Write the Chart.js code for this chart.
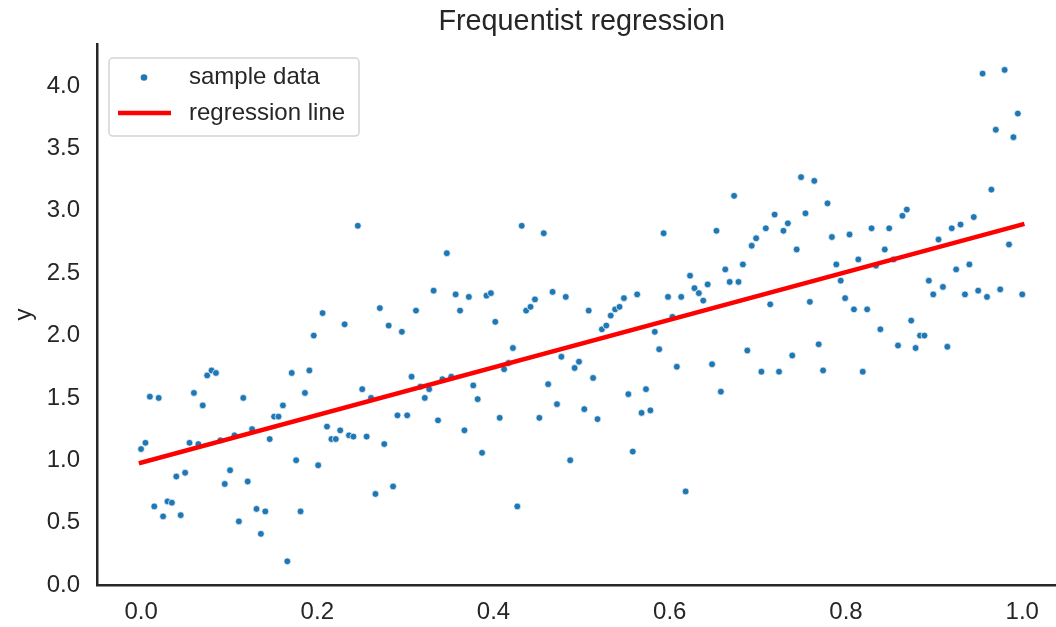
<!DOCTYPE html>
<html>
<head>
<meta charset="utf-8">
<script src="https://cdn.jsdelivr.net/npm/chart.js@4.4.0/dist/chart.umd.min.js"></script>
<style>
html, body { margin: 0; padding: 0; background: #fff; overflow: hidden; }
#wrap { width: 1056px; height: 627px; overflow: hidden; }
</style>
</head>
<body>
<!-- the axes run a little past the right edge of the picture, as in the original figure -->
<div id="wrap"><canvas id="chart" width="1071" height="627"></canvas></div>
<script>
// sample data, x evenly spaced over 0..1
var xs = [
  0.000, 0.005, 0.010, 0.015, 0.020, 0.025, 0.030, 0.035, 0.040, 0.045,
  0.050, 0.055, 0.060, 0.065, 0.070, 0.075, 0.080, 0.085, 0.090, 0.095,
  0.101, 0.106, 0.111, 0.116, 0.121, 0.126, 0.131, 0.136, 0.141, 0.146,
  0.151, 0.156, 0.161, 0.166, 0.171, 0.176, 0.181, 0.186, 0.191, 0.196,
  0.201, 0.206, 0.211, 0.216, 0.221, 0.226, 0.231, 0.236, 0.241, 0.246,
  0.251, 0.256, 0.261, 0.266, 0.271, 0.276, 0.281, 0.286, 0.291, 0.296,
  0.302, 0.307, 0.312, 0.317, 0.322, 0.327, 0.332, 0.337, 0.342, 0.347,
  0.352, 0.357, 0.362, 0.367, 0.372, 0.377, 0.382, 0.387, 0.392, 0.397,
  0.402, 0.407, 0.412, 0.417, 0.422, 0.427, 0.432, 0.437, 0.442, 0.447,
  0.452, 0.457, 0.462, 0.467, 0.472, 0.477, 0.482, 0.487, 0.492, 0.497,
  0.503, 0.508, 0.513, 0.518, 0.523, 0.528, 0.533, 0.538, 0.543, 0.548,
  0.553, 0.558, 0.563, 0.568, 0.573, 0.578, 0.583, 0.588, 0.593, 0.598,
  0.603, 0.608, 0.613, 0.618, 0.623, 0.628, 0.633, 0.638, 0.643, 0.648,
  0.653, 0.658, 0.663, 0.668, 0.673, 0.678, 0.683, 0.688, 0.693, 0.698,
  0.704, 0.709, 0.714, 0.719, 0.724, 0.729, 0.734, 0.739, 0.744, 0.749,
  0.754, 0.759, 0.764, 0.769, 0.774, 0.779, 0.784, 0.789, 0.794, 0.799,
  0.804, 0.809, 0.814, 0.819, 0.824, 0.829, 0.834, 0.839, 0.844, 0.849,
  0.854, 0.859, 0.864, 0.869, 0.874, 0.879, 0.884, 0.889, 0.894, 0.899,
  0.905, 0.910, 0.915, 0.920, 0.925, 0.930, 0.935, 0.940, 0.945, 0.950,
  0.955, 0.960, 0.965, 0.970, 0.975, 0.980, 0.985, 0.990, 0.995, 1.000
];
var ys = [
  1.09, 1.14, 1.51, 0.63, 1.50, 0.55, 0.67, 0.66, 0.87, 0.56,
  0.90, 1.14, 1.54, 1.13, 1.44, 1.68, 1.72, 1.70, 1.16, 0.81,
  0.92, 1.20, 0.51, 1.50, 0.83, 1.25, 0.61, 0.41, 0.59, 1.17,
  1.35, 1.35, 1.44, 0.19, 1.70, 1.00, 0.59, 1.54, 1.72, 2.00,
  0.96, 2.18, 1.27, 1.17, 1.17, 1.24, 2.09, 1.20, 1.19, 2.88,
  1.57, 1.19, 1.50, 0.73, 2.22, 1.13, 2.08, 0.79, 1.36, 2.03,
  1.36, 1.67, 2.20, 1.59, 1.50, 1.57, 2.36, 1.32, 1.65, 2.66,
  1.67, 2.33, 2.20, 1.24, 2.31, 1.60, 1.49, 1.06, 2.32, 2.34,
  2.11, 1.34, 1.73, 1.78, 1.90, 0.63, 2.88, 2.20, 2.23, 2.29,
  1.34, 2.82, 1.61, 2.35, 1.45, 1.83, 2.31, 1.00, 1.74, 1.79,
  1.41, 2.20, 1.66, 1.33, 2.05, 2.08, 2.16, 2.21, 2.23, 2.30,
  1.53, 1.07, 2.33, 1.38, 1.57, 1.40, 2.03, 1.89, 2.82, 2.31,
  2.15, 1.75, 2.31, 0.75, 2.48, 2.38, 2.34, 2.28, 2.41, 1.77,
  2.84, 1.55, 2.53, 2.43, 3.12, 2.43, 2.57, 1.88, 2.72, 2.78,
  1.71, 2.86, 2.25, 2.97, 1.71, 2.84, 2.90, 1.84, 2.69, 3.27,
  2.98, 2.27, 3.24, 1.93, 1.72, 3.06, 2.79, 2.57, 2.44, 2.30,
  2.81, 2.21, 2.61, 1.71, 2.21, 2.86, 2.56, 2.05, 2.69, 2.86,
  2.61, 1.92, 2.96, 3.01, 2.12, 1.90, 2.00, 2.00, 2.44, 2.33,
  2.77, 2.39, 1.91, 2.86, 2.53, 2.89, 2.33, 2.57, 2.95, 2.36,
  4.10, 2.31, 3.17, 3.65, 2.37, 4.13, 2.73, 3.59, 3.78, 2.33
];
// fitted line end points
var lineX = [0, 1];
var lineY = [0.98, 2.89];
var xTicks = [0.0, 0.2, 0.4, 0.6, 0.8, 1.0];
var yTicks = [0.0, 0.5, 1.0, 1.5, 2.0, 2.5, 3.0, 3.5, 4.0];

var FONT = "'Liberation Sans', Arial, Helvetica, sans-serif";
var TEXT = '#262626';

var points = xs.map(function (x, i) { return {x: x, y: ys[i]}; });
var fit = lineX.map(function (x, i) { return {x: x, y: lineY[i]}; });

// legend drawn inside the plot, upper left
var insideLegend = {
  id: 'insideLegend',
  afterDraw: function (chart) {
    var ctx = chart.ctx, area = chart.chartArea;
    var sets = chart.data.datasets;
    var bx = area.left + 12, by = area.top + 14, bw = 250, bh = 78;
    ctx.save();
    ctx.beginPath();
    ctx.roundRect(bx, by, bw, bh, 4);
    ctx.fillStyle = 'rgba(255,255,255,0.8)';
    ctx.fill();
    ctx.lineWidth = 1.5;
    ctx.strokeStyle = '#d4d4d4';
    ctx.stroke();

    var scatter = sets[1], line = sets[0];
    var r1 = by + 19.5, r2 = by + 55;
    ctx.beginPath();
    ctx.arc(bx + 35, r1, 3.3, 0, Math.PI * 2);
    ctx.fillStyle = scatter.backgroundColor;
    ctx.fill();

    ctx.beginPath();
    ctx.moveTo(bx + 9, r2);
    ctx.lineTo(bx + 62, r2);
    ctx.lineWidth = line.borderWidth;
    ctx.strokeStyle = line.borderColor;
    ctx.lineCap = 'butt';
    ctx.stroke();

    ctx.fillStyle = TEXT;
    ctx.font = '24px ' + FONT;
    ctx.textAlign = 'left';
    ctx.textBaseline = 'middle';
    ctx.fillText(scatter.label, bx + 80, r1);
    ctx.fillText(line.label, bx + 80, r2);
    ctx.restore();
  }
};

new Chart(document.getElementById('chart'), {
  type: 'scatter',
  data: {
    datasets: [{
      type: 'line',
      label: 'regression line',
      data: fit,
      borderColor: '#ff0000',
      borderWidth: 4.5,
      borderCapStyle: 'square',
      pointRadius: 0,
      fill: false,
      order: 0
    }, {
      label: 'sample data',
      data: points,
      backgroundColor: '#1f77b4',
      borderColor: '#ffffff',
      borderWidth: 0.7,
      pointRadius: 3.4,
      order: 1
    }]
  },
  options: {
    responsive: false,
    animation: false,
    layout: {padding: 0},
    plugins: {
      legend: {display: false},
      tooltip: {enabled: false},
      title: {
        display: true,
        fullSize: false,
        text: 'Frequentist regression',
        color: TEXT,
        font: {family: FONT, size: 28.8, weight: 'normal'},
        padding: {top: 4.5, bottom: 5}
      }
    },
    scales: {
      x: {
        type: 'linear',
        min: -0.05,
        max: 1.05,
        afterBuildTicks: function (s) { s.ticks = xTicks.map(function (v) { return {value: v}; }); },
        afterFit: function (s) { s.height = 42; },
        grid: {display: false, drawTicks: false},
        border: {display: true, color: TEXT, width: 2.5},
        ticks: {
          autoSkip: false, maxRotation: 0, padding: 13,
          color: TEXT, font: {family: FONT, size: 24},
          callback: function (v) { return v.toFixed(1); }
        }
      },
      y: {
        type: 'linear',
        min: 0,
        max: 4.337,
        afterBuildTicks: function (s) { s.ticks = yTicks.map(function (v) { return {value: v}; }); },
        afterFit: function (s) { s.width = 97; },
        grid: {display: false, drawTicks: false},
        border: {display: true, color: TEXT, width: 2.5},
        title: {
          display: true, text: 'y', color: TEXT,
          font: {family: FONT, size: 24}, padding: {top: 10, bottom: 0}
        },
        ticks: {
          padding: 17,
          color: TEXT, font: {family: FONT, size: 24},
          callback: function (v) { return v.toFixed(1); }
        }
      }
    }
  },
  plugins: [insideLegend]
});
</script>
</body>
</html>
